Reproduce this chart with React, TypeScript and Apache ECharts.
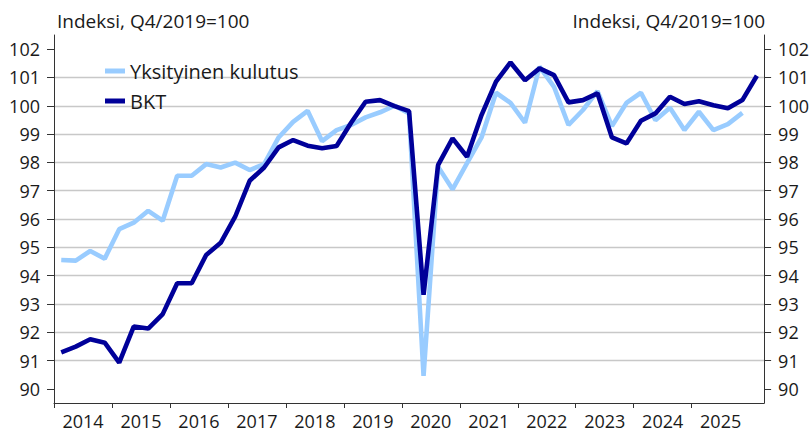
import React, { useEffect, useRef } from "react";
import * as echarts from "echarts";

const years = [2014, 2015, 2016, 2017, 2018, 2019, 2020, 2021, 2022, 2023, 2024, 2025];
const quarters: string[] = [];
years.forEach((y) => ["Q1", "Q2", "Q3", "Q4"].forEach((q) => quarters.push(`${y}${q}`)));
quarters.push("2026Q1");

const privateConsumption = [
  94.55, 94.53, 94.87, 94.6, 95.64, 95.87, 96.29, 95.94,
  97.53, 97.53, 97.94, 97.82, 97.99, 97.73, 97.94, 98.88,
  99.43, 99.82, 98.75, 99.14, 99.32, 99.59, 99.77, 100.0,
  99.73, 90.46, 97.85, 97.05, 97.97, 98.88, 100.46, 100.1,
  99.4, 101.38, 100.67, 99.32, 99.85, 100.52, 99.28, 100.1,
  100.46, 99.49, 99.93, 99.14, 99.79, 99.14, 99.35, 99.75,
];

const gdp = [
  91.29, 91.49, 91.75, 91.63, 90.93, 92.2, 92.13, 92.64,
  93.73, 93.73, 94.73, 95.16, 96.08, 97.35, 97.82, 98.53,
  98.79, 98.59, 98.5, 98.58, 99.4, 100.14, 100.2, 99.99,
  99.81, 93.32, 97.9, 98.85, 98.2, 99.67, 100.85, 101.53,
  100.9, 101.32, 101.08, 100.12, 100.2, 100.44, 98.88, 98.67,
  99.47, 99.73, 100.32, 100.06, 100.16, 100.02, 99.91, 100.2, 101.06,
];

const yTicks = [90, 91, 92, 93, 94, 95, 96, 97, 98, 99, 100, 101, 102];
const yearTickPositions = years.map((_, i) => i * 4);
const yearLabelPositions = years.map((_, i) => i * 4 + 2);

const seriesNames = ["Yksityinen kulutus", "BKT"];
const titleText = "Indeksi, Q4/2019=100";

const FONT = "'Open Sans', 'Noto Sans', sans-serif";
const TEXT = "#1a1a1a";
const AXIS = "#333333";

export default function App() {
  const ref = useRef<HTMLDivElement>(null);
  useEffect(() => {
    if (!ref.current) return;
    const chart = echarts.init(ref.current, null, { renderer: "svg" });
    const yAxisCommon = {
      type: "value",
      min: 89.5,
      max: 102.5,
      axisLine: { show: true, lineStyle: { color: AXIS, width: 1 } },
      axisTick: { show: true, length: 7, customValues: yTicks, lineStyle: { color: AXIS } },
      axisLabel: {
        customValues: yTicks,
        fontFamily: FONT,
        fontSize: 18,
        color: TEXT,
        margin: 14,
      },
    };
    chart.setOption({
      animation: false,
      textStyle: { fontFamily: FONT },
      title: [
        {
          text: titleText,
          left: 52,
          top: 6,
          textStyle: { fontFamily: FONT, fontSize: 19, fontWeight: "normal", color: TEXT },
        },
        {
          text: titleText,
          right: 42,
          top: 6,
          textStyle: { fontFamily: FONT, fontSize: 19, fontWeight: "normal", color: TEXT },
        },
      ],
      legend: {
        orient: "vertical",
        left: 100,
        top: 56,
        icon: "rect",
        itemWidth: 20,
        itemHeight: 5,
        itemGap: 10,
        textStyle: { fontFamily: FONT, fontSize: 20, color: TEXT, lineHeight: 20 },
        data: seriesNames,
      },
      grid: { left: 54, right: 42, top: 35, bottom: 29, containLabel: false },
      xAxis: [
        {
          type: "category",
          data: quarters,
          boundaryGap: true,
          axisLine: { show: true, lineStyle: { color: AXIS, width: 1 } },
          axisTick: { show: false },
          axisLabel: { show: false },
          splitLine: { show: false },
        },
        {
          type: "value",
          min: 0,
          max: quarters.length,
          position: "bottom",
          axisLine: { show: false },
          axisTick: {
            show: true,
            length: 5,
            customValues: yearTickPositions,
            lineStyle: { color: AXIS },
          },
          axisLabel: {
            customValues: yearLabelPositions,
            formatter: (v: number) => String(years[Math.round((v - 2) / 4)]),
            fontFamily: FONT,
            fontSize: 18,
            lineHeight: 16,
            color: TEXT,
            margin: 10,
          },
          splitLine: { show: false },
        },
      ],
      yAxis: [
        {
          ...yAxisCommon,
          position: "left",
          splitLine: {
            show: true,
            showMinLine: false,
            showMaxLine: false,
            lineStyle: { color: "#c8c8c8", width: 1.3 },
          },
        },
        {
          ...yAxisCommon,
          position: "right",
          splitLine: { show: false },
        },
      ],
      series: [
        {
          name: seriesNames[0],
          type: "line",
          data: privateConsumption,
          xAxisIndex: 0,
          yAxisIndex: 0,
          showSymbol: false,
          symbol: "none",
          lineStyle: { color: "#99ccff", width: 4.6 },
          itemStyle: { color: "#99ccff" },
        },
        {
          name: seriesNames[1],
          type: "line",
          data: gdp,
          xAxisIndex: 0,
          yAxisIndex: 0,
          showSymbol: false,
          symbol: "none",
          lineStyle: { color: "#000099", width: 4.6 },
          itemStyle: { color: "#000099" },
        },
      ],
    });
    return () => chart.dispose();
  }, []);
  return (
    <div
      ref={ref}
      style={{ position: "absolute", left: 0, top: 0, width: 812, height: 432, background: "#fff" }}
    />
  );
}
